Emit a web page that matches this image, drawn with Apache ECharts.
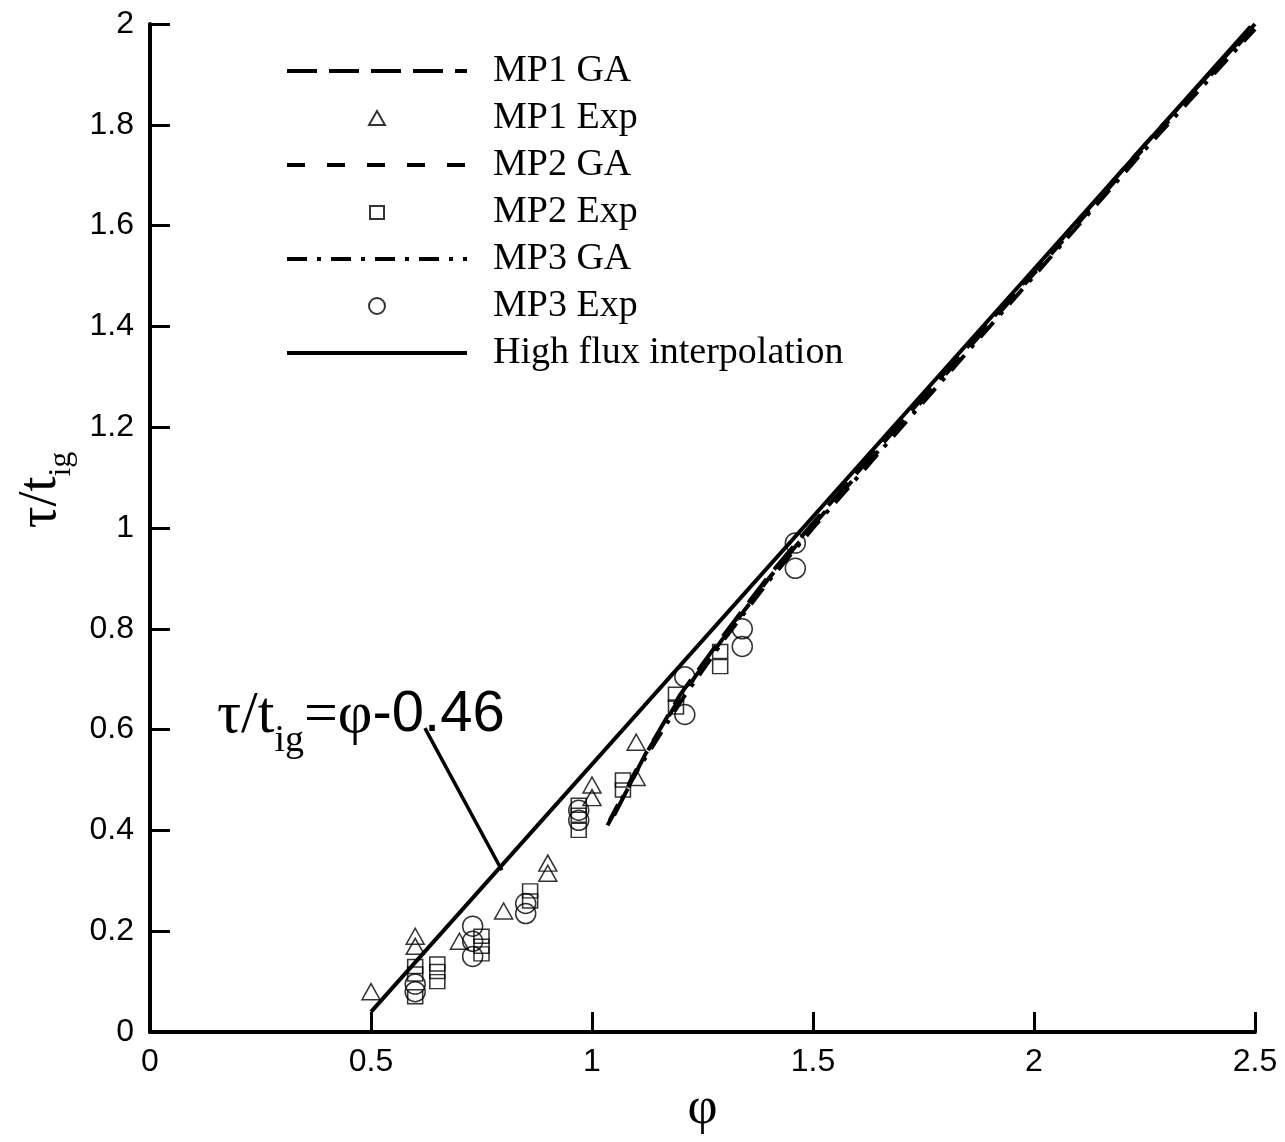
<!DOCTYPE html>
<html>
<head>
<meta charset="utf-8">
<title>tau / t_ig vs phi</title>
<script src="https://cdn.jsdelivr.net/npm/echarts@6/dist/echarts.min.js"></script>
<style>
  html, body { margin: 0; padding: 0; background: #fff; }
  #main { width: 1285px; height: 1142px; }
</style>
</head>
<body>
<div id="main"></div>
<script>
// axis ticks
var xTicks = [0, 0.5, 1, 1.5, 2, 2.5];
var yTicks = [0, 0.2, 0.4, 0.6, 0.8, 1, 1.2, 1.4, 1.6, 1.8, 2];

// GA model curves (phi, tau/t_ig)
var mp1GA = [[1.05,0.43],[1.12,0.55],[1.2,0.67],[1.3,0.79],[1.4,0.905],[1.5,1.01],[1.75,1.26],[2.0,1.51],[2.25,1.76],[2.5,2.0]];
var mp2GA = [[1.04,0.42],[1.1,0.52],[1.2,0.665],[1.3,0.785],[1.4,0.9],[1.5,1.005],[1.75,1.255],[2.0,1.505],[2.25,1.755],[2.5,1.995]];
var mp3GA = [[1.035,0.41],[1.1,0.515],[1.2,0.655],[1.3,0.78],[1.4,0.895],[1.5,1.0],[1.75,1.25],[2.0,1.5],[2.25,1.75],[2.5,1.99]];

// experiments
var mp1Exp = [[0.5,0.08],[0.6,0.19],[0.6,0.17],[0.7,0.18],[0.8,0.24],[0.9,0.335],[0.9,0.315],
              [1.0,0.49],[1.0,0.465],[1.1,0.575],[1.1,0.505]];
var mp2Exp = [[0.6,0.13],[0.6,0.115],[0.6,0.07],[0.65,0.135],[0.65,0.12],[0.65,0.1],
              [0.75,0.19],[0.75,0.17],[0.75,0.155],[0.86,0.28],[0.86,0.26],
              [0.97,0.45],[0.97,0.43],[0.97,0.40],[1.07,0.5],[1.07,0.48],
              [1.19,0.67],[1.19,0.645],[1.29,0.755],[1.29,0.725]];
var mp3Exp = [[0.6,0.095],[0.6,0.08],[0.73,0.21],[0.73,0.18],[0.73,0.15],[0.85,0.255],[0.85,0.235],
              [0.97,0.44],[0.97,0.42],[1.21,0.705],[1.21,0.63],[1.34,0.8],[1.34,0.765],
              [1.46,0.97],[1.46,0.92]];

// high flux interpolation  tau/t_ig = phi - 0.46
var highFlux = [[0.5,0.04],[2.49,1.995]];
// leader line of the equation label
var leader = [[0.622,0.603],[0.796,0.321]];

var serif = '"Liberation Serif", "Times New Roman", serif';
var sans = '"Liberation Sans", Arial, sans-serif';

// legend icons: small marker centred in the 180x16 legend slot
// (the bare moveTo points stretch the path box to the full slot)
var iconTri = 'path://M0,0M180,16M82,15L90,1L98,15Z';
var iconSq = 'path://M0,0M180,16M83,2L97,2L97,15L83,15Z';

function gaLine(name, data, dash) {
    return {
        name: name, type: 'line', data: data, symbol: 'none', silent: true,
        itemStyle: { color: '#000' },
        lineStyle: { color: '#000', width: 4, type: dash }
    };
}
function expPts(name, data, sym, size) {
    return {
        name: name, type: 'scatter', data: data, symbol: sym, symbolSize: size, silent: true,
        itemStyle: { color: 'rgba(255,255,255,0)', borderColor: '#000', borderWidth: 1.5 }
    };
}
// legend entry for a plain line (hide the dot echarts puts on line icons)
function lineEntry(name) {
    return { name: name, itemStyle: { opacity: 0 } };
}

var chart = echarts.init(document.getElementById('main'));
var option = {
    backgroundColor: '#fff',
    animation: false,
    grid: { left: 150, right: 30, top: 24, bottom: 110 },
    legend: {
        orient: 'vertical', left: 280, top: 46,
        itemWidth: 180, itemHeight: 16, itemGap: 7,
        lineStyle: { width: 4 },
        data: [
            lineEntry('MP1 GA'),
            { name: 'MP1 Exp', icon: iconTri },
            lineEntry('MP2 GA'),
            { name: 'MP2 Exp', icon: iconSq },
            lineEntry('MP3 GA'),
            { name: 'MP3 Exp', icon: 'circle' },
            lineEntry('High flux interpolation')
        ],
        textStyle: { fontFamily: serif, fontSize: 38, lineHeight: 40, color: '#000', padding: [0, 0, 0, 21] },
        selectedMode: false
    },
    xAxis: {
        type: 'value', min: 0, max: 2.5, interval: 0.5,
        name: 'φ', nameLocation: 'middle', nameGap: 50,
        nameTextStyle: { fontFamily: serif, fontSize: 52, color: '#000' },
        axisLine: { lineStyle: { color: '#000', width: 4 } },
        axisTick: { inside: true, length: 20, lineStyle: { color: '#000', width: 3 } },
        axisLabel: { fontFamily: '"Liberation Sans Narrow", "Liberation Sans", Arial', fontSize: 32, color: '#000', margin: 14 },
        splitLine: { show: false }
    },
    yAxis: {
        type: 'value', min: 0, max: 2, interval: 0.2,
        name: '{a|τ/t}{b|ig}', nameLocation: 'middle', nameGap: 72,
        nameTextStyle: {
            color: '#000',
            padding: [0, 0, 0, 76],
            rich: {
                a: { fontFamily: serif, fontSize: 54, lineHeight: 64, verticalAlign: 'top' },
                b: { fontFamily: serif, fontSize: 32, lineHeight: 26, verticalAlign: 'bottom' }
            }
        },
        axisLine: { lineStyle: { color: '#000', width: 4 } },
        axisTick: { inside: true, length: 20, lineStyle: { color: '#000', width: 3 } },
        axisLabel: {
            fontFamily: sans, fontSize: 32, color: '#000', margin: 16,
            formatter: function (v) { return String(Math.round(v * 10) / 10); }
        },
        splitLine: { show: false }
    },
    graphic: [{
        type: 'text', left: 217, top: 686, silent: true,
        style: {
            text: '{a|τ/t}{b|ig}{a|=φ}{c|-0.46}',
            fill: '#000',
            rich: {
                a: { fontFamily: serif, fontSize: 60, lineHeight: 74, verticalAlign: 'top', fill: '#000' },
                b: { fontFamily: serif, fontSize: 38, lineHeight: 30, verticalAlign: 'bottom', fill: '#000' },
                c: { fontFamily: sans, fontSize: 58, lineHeight: 74, verticalAlign: 'top', fill: '#000' }
            }
        }
    }],
    series: [
        gaLine('MP1 GA', mp1GA, [30, 12]),
        expPts('MP1 Exp', mp1Exp, 'triangle', [18, 16]),
        gaLine('MP2 GA', mp2GA, [18, 22]),
        expPts('MP2 Exp', mp2Exp, 'rect', [15, 14]),
        gaLine('MP3 GA', mp3GA, [20, 10, 4, 10]),
        expPts('MP3 Exp', mp3Exp, 'circle', 20),
        {
            name: 'High flux interpolation', type: 'line', data: highFlux, symbol: 'none', silent: true,
            itemStyle: { color: '#000' },
            lineStyle: { color: '#000', width: 4 }
        },
        {
            name: 'leader', type: 'line', data: leader, symbol: 'none', silent: true,
            lineStyle: { color: '#000', width: 3.5 }
        }
    ]
};
chart.setOption(option);
</script>
</body>
</html>
